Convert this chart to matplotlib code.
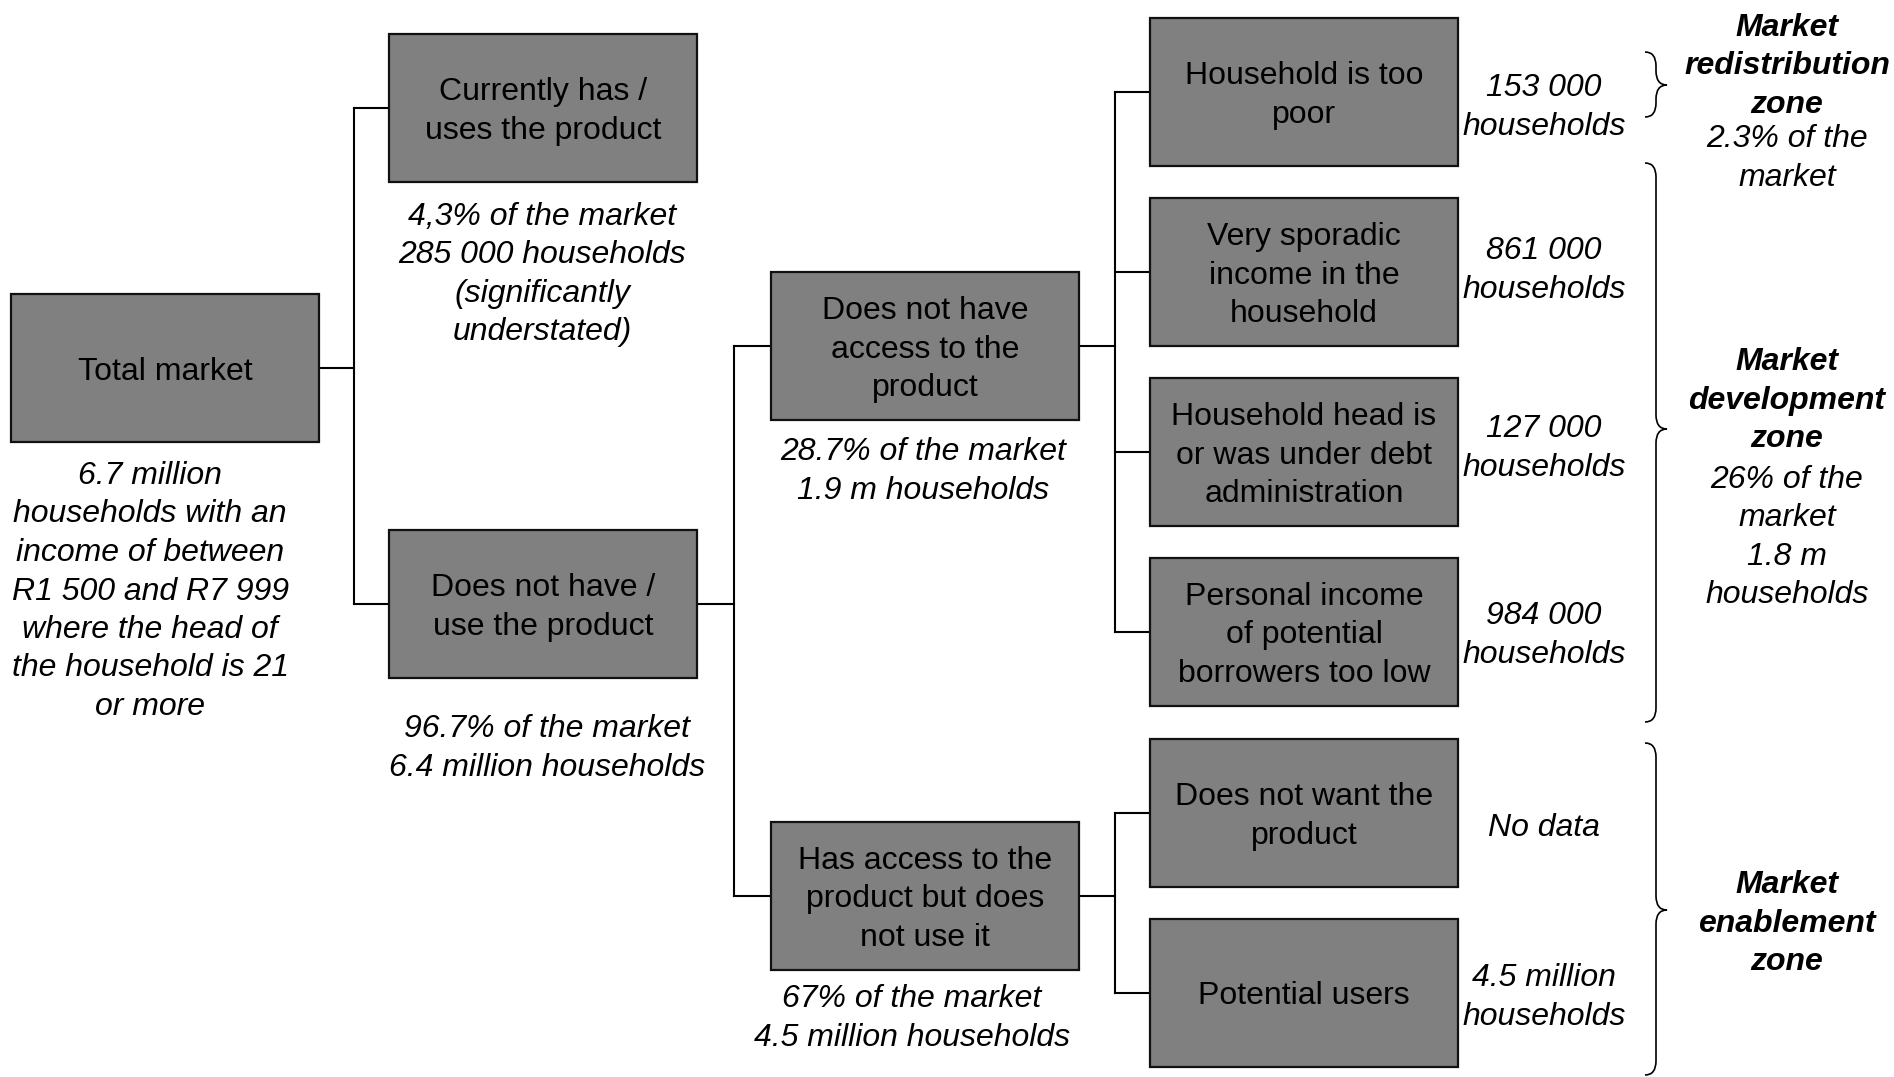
import matplotlib.pyplot as plt
from matplotlib.patches import Rectangle, PathPatch
from matplotlib.path import Path

plt.rcParams['font.family'] = ['Liberation Sans', 'DejaVu Sans']

# tree nodes: label, parent, caption under/next to the box
node_labels = ["Total market",
               "Currently has /\nuses the product",
               "Does not have /\nuse the product",
               "Does not have\naccess to the\nproduct",
               "Has access to the\nproduct but does\nnot use it",
               "Household is too\npoor",
               "Very sporadic\nincome in the\nhousehold",
               "Household head is\nor was under debt\nadministration",
               "Personal income\nof potential\nborrowers too low",
               "Does not want the\nproduct",
               "Potential users"]
node_parent = [None, 0, 0, 2, 2, 3, 3, 3, 3, 4, 4]
node_captions = ["6.7 million\nhouseholds with an\nincome of between\nR1 500 and R7 999\nwhere the head of\nthe household is 21\nor more",
                 "4,3% of the market\n285 000 households\n(significantly\nunderstated)",
                 "96.7% of the market\n6.4 million households",
                 "28.7% of the market\n1.9 m households",
                 "67% of the market\n4.5 million households",
                 "153 000\nhouseholds",
                 "861 000\nhouseholds",
                 "127 000\nhouseholds",
                 "984 000\nhouseholds",
                 "No data",
                 "4.5 million\nhouseholds"]
zone_titles = ["Market\nredistribution\nzone", "Market\ndevelopment\nzone", "Market\nenablement\nzone"]
zone_notes = ["2.3% of the\nmarket", "26% of the\nmarket\n1.8 m\nhouseholds", ""]

# layout (pixels)
W, H = 1894, 1077
BOX_W, BOX_H = 308, 148
LINE = 38.5
FS = 23
col_left = [11, 389, 771, 1150]
node_col = [0, 1, 1, 2, 2, 3, 3, 3, 3, 3, 3]
node_top = [294, 34, 530, 272, 822, 18, 198, 378, 558, 739, 919]
cap_x = [150, 542, 547, 923, 912, 1544, 1544, 1544, 1544, 1544, 1544]
cap_y = [588, 271, 745, 468, 1015, 104, 267, 445, 632, 824, 994]
brace_spans = [(52, 117, 85), (163, 722, 429), (743, 1075, 910)]
BRACE_X, BRACE_W = 1645, 22
zone_x = 1787
zone_title_y = [63, 397, 920]
zone_note_y = [155, 534, None]

fig = plt.figure(figsize=(W / 100, H / 100), dpi=100)
ax = fig.add_axes([0, 0, 1, 1])
ax.set_xlim(0, W)
ax.set_ylim(H, 0)
ax.axis('off')


def put_lines(x, yc, text, **kw):
    lines = text.split("\n")
    n = len(lines)
    for i, ln in enumerate(lines):
        y = yc + (i - (n - 1) / 2) * LINE
        ax.text(x, y + 0.36 * FS * 100 / 72, ln, ha='center', va='baseline',
                fontsize=FS, color='black', **kw)


def brace(y0, y1, ym):
    x0 = BRACE_X
    xm = x0 + BRACE_W / 2
    xt = x0 + BRACE_W
    r = min(14, (y1 - y0) / 4)
    verts = [(x0, y0), (xm, y0), (xm, y0 + r),
             (xm, ym - r), (xm, ym), (xt, ym),
             (xm, ym), (xm, ym + r),
             (xm, y1 - r), (xm, y1), (x0, y1)]
    codes = [Path.MOVETO, Path.CURVE3, Path.CURVE3,
             Path.LINETO, Path.CURVE3, Path.CURVE3,
             Path.CURVE3, Path.CURVE3,
             Path.LINETO, Path.CURVE3, Path.CURVE3]
    ax.add_patch(PathPatch(Path(verts, codes), fill=False, lw=1.2, color='black'))


def center(i):
    return col_left[node_col[i]] + BOX_W / 2, node_top[i] + BOX_H / 2


# connectors
for p in range(len(node_labels)):
    kids = [i for i, q in enumerate(node_parent) if q == p]
    if not kids:
        continue
    px = col_left[node_col[p]] + BOX_W
    py = center(p)[1]
    cl = col_left[node_col[kids[0]]]
    xm = (px + cl) / 2
    ax.plot([px, xm], [py, py], color='black', lw=1.5)
    ys = [center(k)[1] for k in kids]
    ax.plot([xm, xm], [min(ys), max(ys)], color='black', lw=1.5)
    for y in ys:
        ax.plot([xm, cl], [y, y], color='black', lw=1.5)

# boxes
for i, lab in enumerate(node_labels):
    x0 = col_left[node_col[i]]
    ax.add_patch(Rectangle((x0, node_top[i]), BOX_W, BOX_H, facecolor='#808080',
                           edgecolor='#111111', lw=1.6, zorder=3))
    cx, cy = center(i)
    put_lines(cx, cy, lab, zorder=4)
    put_lines(cap_x[i], cap_y[i], node_captions[i], style='italic')

# braces and zones
for (y0, y1, ym) in brace_spans:
    brace(y0, y1, ym)
for t, n, ty, ny in zip(zone_titles, zone_notes, zone_title_y, zone_note_y):
    put_lines(zone_x, ty, t, style='italic', fontweight='bold')
    if n:
        put_lines(zone_x, ny, n, style='italic')

fig.savefig("out.png", dpi=100, facecolor='white')
